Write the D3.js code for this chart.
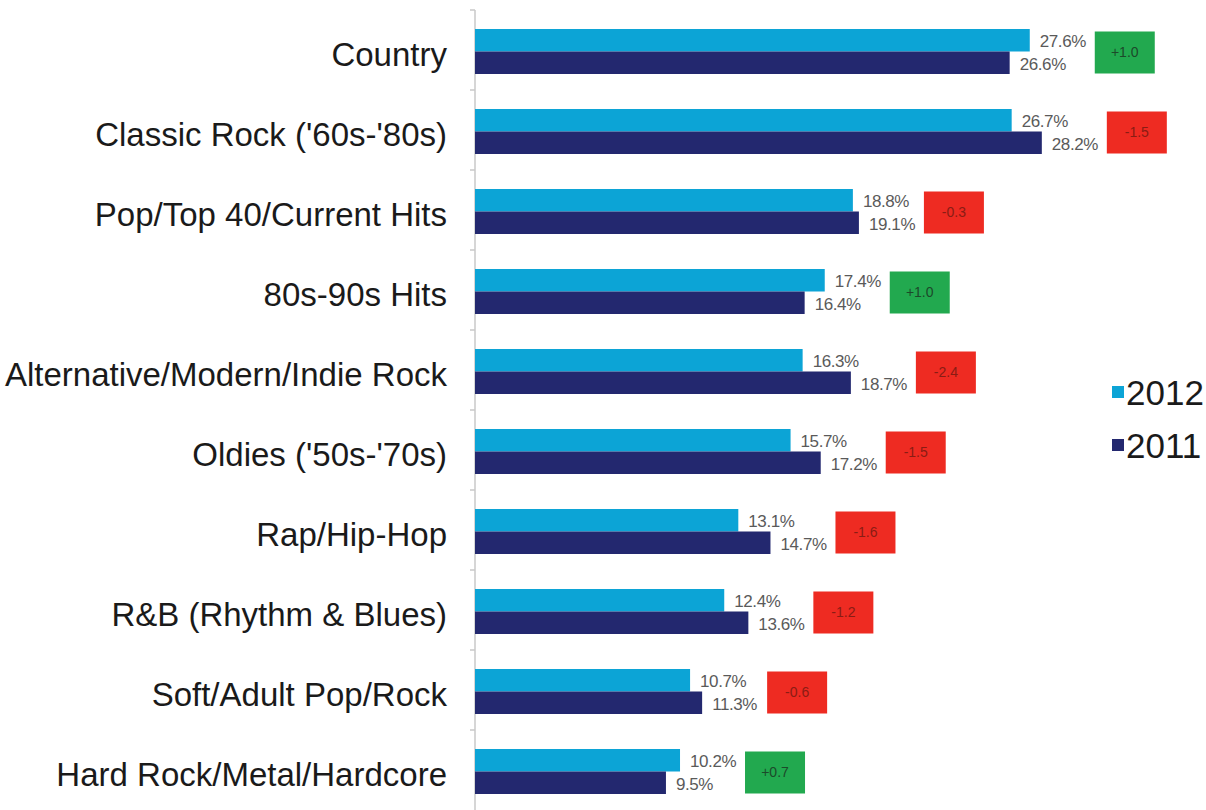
<!DOCTYPE html>
<html>
<head>
<meta charset="utf-8">
<script src="https://cdn.jsdelivr.net/npm/d3@7"></script>
<style>
  body { margin: 0; background: #fff; }
  svg { display: block; font-family: "Liberation Sans", Arial, sans-serif; }
</style>
</head>
<body>
<div id="chart"></div>
<script>
// chart data
const categories = [
    "Country",
    "Classic Rock ('60s-'80s)",
    "Pop/Top 40/Current Hits",
    "80s-90s Hits",
    "Alternative/Modern/Indie Rock",
    "Oldies ('50s-'70s)",
    "Rap/Hip-Hop",
    "R&B (Rhythm & Blues)",
    "Soft/Adult Pop/Rock",
    "Hard Rock/Metal/Hardcore"
];
const values2012 = [27.6, 26.7, 18.8, 17.4, 16.3, 15.7, 13.1, 12.4, 10.7, 10.2];
const values2011 = [26.6, 28.2, 19.1, 16.4, 18.7, 17.2, 14.7, 13.6, 11.3, 9.5];
const changes = ["+1.0", "-1.5", "-0.3", "+1.0", "-2.4", "-1.5", "-1.6", "-1.2", "-0.6", "+0.7"];
const seriesNames = ["2012", "2011"];

const width = 1206
const height = 810
const color = d3.scaleOrdinal(seriesNames, ["#0ca4d6", "#23286f"]);

const data = categories.map((c, i) => ({
    name: c,
    values: [
        { year: "2012", v: values2012[i] },
        { year: "2011", v: values2011[i] }
    ],
    change: changes[i]
}));

// scales
const XScale = d3.scaleLinear().domain([0, 30]).range([475, 1078]);
const YScale = d3.scaleBand()
    .domain(categories)
    .range([11.5, 811.5])
    .paddingInner(0.4375)
    .paddingOuter(0.21875);
const YInner = d3.scaleBand().domain(seriesNames).range([0, YScale.bandwidth()]);

const svg = d3.select("#chart")
    .append("svg")
    .attr("width", width)
    .attr("height", height);

// axis line and ticks on band boundaries
const step = YScale.step();
const gap = step * YScale.paddingInner() / 2;
svg.append("line")
    .attr("x1", XScale(0)).attr("x2", XScale(0))
    .attr("y1", 10).attr("y2", height)
    .attr("stroke", "#c8c8c8").attr("stroke-width", 1.5);
svg.selectAll("line.tick")
    .data(categories)
    .enter().append("line")
    .attr("class", "tick")
    .attr("x1", XScale(0) - 5).attr("x2", XScale(0))
    .attr("y1", d => YScale(d) - gap - 1.5)
    .attr("y2", d => YScale(d) - gap - 1.5)
    .attr("stroke", "#c8c8c8").attr("stroke-width", 1.5);

// category labels
svg.selectAll("text.cat")
    .data(categories)
    .enter().append("text")
    .attr("class", "cat")
    .attr("x", 447)
    .attr("y", d => YScale(d) + YScale.bandwidth() / 2 + 3)
    .attr("dy", "0.35em")
    .attr("text-anchor", "end")
    .attr("font-size", 33)
    .attr("fill", "#1a1a1a")
    .text(d => d);

// bar groups
const groups = svg.selectAll("g.cat-group")
    .data(data)
    .enter().append("g")
    .attr("class", "cat-group")
    .attr("transform", d => "translate(0," + YScale(d.name) + ")");

groups.selectAll("rect")
    .data(d => d.values)
    .enter().append("rect")
    .attr("x", XScale(0))
    .attr("y", d => YInner(d.year))
    .attr("width", d => XScale(d.v) - XScale(0))
    .attr("height", YInner.bandwidth())
    .attr("fill", d => color(d.year));

groups.selectAll("text.val")
    .data(d => d.values)
    .enter().append("text")
    .attr("class", "val")
    .attr("x", d => XScale(d.v) + 10)
    .attr("y", d => YInner(d.year) + YInner.bandwidth() / 2 + 1)
    .attr("dy", "0.35em")
    .attr("font-size", 17)
    .attr("letter-spacing", -0.4)
    .attr("fill", "#5a5a5a")
    .text(d => d.v.toFixed(1) + "%");

// change badges
const badgeW = 60, badgeH = 42;
groups.append("rect")
    .attr("x", d => XScale(d3.max(d.values, e => e.v)) + 65)
    .attr("y", YScale.bandwidth() / 2 - badgeH / 2 + 1)
    .attr("width", badgeW)
    .attr("height", badgeH)
    .attr("fill", d => d.change[0] === "+" ? "#22a94f" : "#ee2b22");

groups.append("text")
    .attr("x", d => XScale(d3.max(d.values, e => e.v)) + 65 + badgeW / 2)
    .attr("y", YScale.bandwidth() / 2 + 1)
    .attr("dy", "0.35em")
    .attr("text-anchor", "middle")
    .attr("font-size", 14)
    .attr("fill", d => d.change[0] === "+" ? "#1c4a2a" : "#8a1c14")
    .text(d => d.change);

// legend
const legend = svg.selectAll("g.legend")
    .data(seriesNames)
    .enter().append("g")
    .attr("class", "legend")
    .attr("transform", (d, i) => "translate(1112," + (393 + i * 53) + ")");
legend.append("rect")
    .attr("x", 0).attr("y", -7)
    .attr("width", 12).attr("height", 12)
    .attr("fill", d => color(d));
legend.append("text")
    .attr("x", 14)
    .attr("y", 0)
    .attr("dy", "0.35em")
    .attr("font-size", 35)
    .attr("fill", "#1a1a1a")
    .text(d => d);
</script>
</body>
</html>
